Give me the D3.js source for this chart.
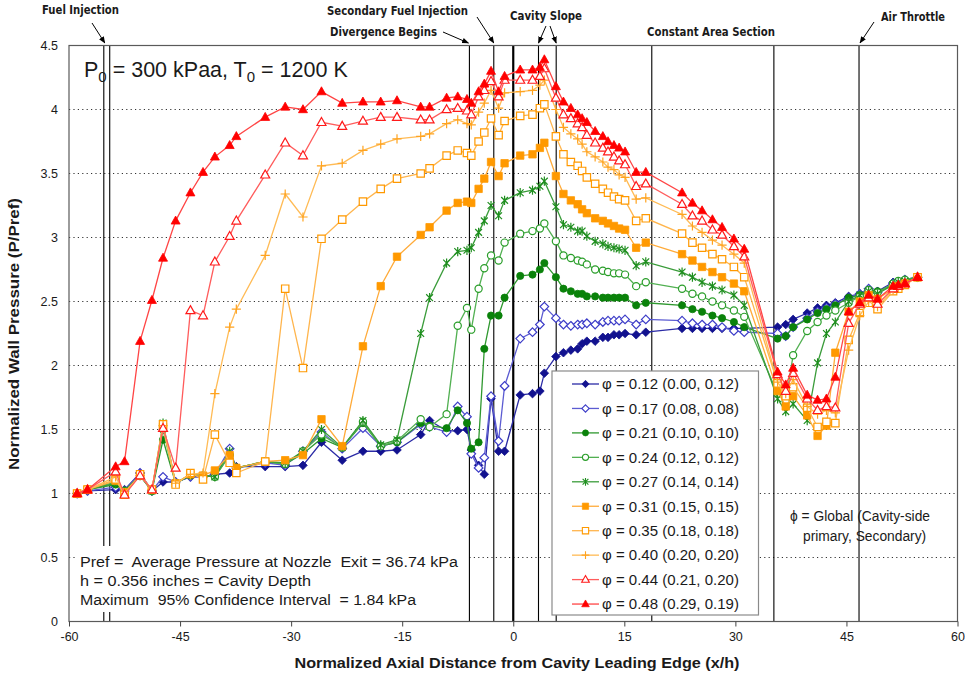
<!DOCTYPE html>
<html><head><meta charset="utf-8">
<script src="https://cdn.jsdelivr.net/npm/d3@7"></script>
<style>
body{margin:0;background:#fff}
svg{display:block}
text{font-family:"Liberation Sans",Arial,sans-serif;fill:#1a1a1a}
.pre{white-space:pre}
.ann{font-family:"Liberation Sans Narrow","Arial Narrow","DejaVu Sans Condensed",sans-serif;font-weight:bold;font-size:12.5px}
</style>
</head><body>
<svg id="c" width="965" height="678"></svg>
<script>
// ---------- DATA ----------
const xPos = [-58.9,-57.5,-53.7,-52.5,-50.4,-48.8,-47.3,-45.6,-43.6,-41.9,-40.3,-38.3,-37.4,-33.5,-30.8,-28.4,-25.9,-23.1,
  -20.3,-17.9,-15.7,-12.5,-11.3,-9.0,-7.5,-6.25,-5.67,-4.68,-3.91,-3.0,-1.98,-1.17,
  0.94,2.6,3.6,4.2,
  5.76,6.78,7.78,8.7,9.3,9.94,11.06,12.1,12.8,13.6,14.3,15.1,16.6,17.9,22.8,24.2,25.5,26.9,28.2,29.8,31.2,
  35.7,36.8,37.8,39.7,41.1,42.3,43.5,
  45.3,46.8,48.0,49.2,51.3,52.0,52.9,54.6];

const phi012 = [1.00,1.02,1.03,1.03,1.16,1.02,1.09,1.09,1.13,1.13,1.15,1.16,1.21,1.21,1.21,1.22,1.40,1.26,
  1.33,1.33,1.34,1.46,1.57,1.49,1.49,1.50,1.34,1.22,1.15,1.74,1.33,1.33,
  1.77,1.78,1.80,1.94,
  2.07,2.10,2.12,2.13,2.17,2.19,2.19,2.22,2.22,2.24,2.24,2.25,2.24,2.26,2.29,2.29,2.29,2.29,2.29,2.29,2.29,
  2.30,2.32,2.36,2.41,2.45,2.47,2.49,
  2.54,2.56,2.60,2.58,2.65,2.65,2.67,2.69];
const phi017 = [1.00,1.02,1.05,1.02,1.16,1.02,1.13,1.09,1.13,1.13,1.15,1.35,1.20,1.24,1.22,1.33,1.48,1.35,
  1.51,1.37,1.40,1.54,1.52,1.48,1.68,1.60,1.31,1.20,1.28,1.76,1.41,1.84,
  2.21,2.26,2.32,2.46,
  2.37,2.32,2.31,2.32,2.32,2.33,2.32,2.34,2.35,2.35,2.35,2.36,2.32,2.36,2.35,2.33,2.32,2.32,2.30,2.27,2.26,
  2.25,2.23,2.30,2.37,2.42,2.45,2.48,
  2.53,2.56,2.60,2.57,2.64,2.65,2.67,2.69];
const phi021 = [1.00,1.03,1.07,1.02,1.14,1.02,1.42,1.08,1.14,1.14,1.13,1.30,1.20,1.25,1.23,1.31,1.43,1.36,
  1.55,1.37,1.40,1.55,1.53,1.51,1.65,1.55,1.35,1.40,2.13,2.39,2.39,2.53,
  2.70,2.71,2.75,2.80,
  2.69,2.60,2.58,2.56,2.56,2.54,2.54,2.53,2.53,2.53,2.53,2.53,2.47,2.49,2.47,2.44,2.42,2.39,2.37,2.34,2.30,
  2.21,2.23,2.30,2.36,2.41,2.44,2.47,
  2.53,2.55,2.59,2.58,2.63,2.65,2.66,2.69];
const phi024 = [1.00,1.03,1.09,1.02,1.14,1.02,1.50,1.08,1.15,1.14,1.13,1.30,1.20,1.25,1.23,1.33,1.46,1.36,
  1.56,1.37,1.41,1.58,1.52,1.62,2.31,2.45,2.28,2.60,2.76,2.86,2.82,2.96,
  3.03,3.05,3.07,3.11,
  2.97,2.86,2.84,2.82,2.81,2.79,2.75,2.74,2.73,2.72,2.72,2.71,2.62,2.65,2.60,2.56,2.54,2.50,2.47,2.43,2.38,
  1.78,1.72,2.08,2.27,2.34,2.39,2.43,
  2.49,2.54,2.59,2.57,2.64,2.66,2.67,2.69];
const phi027 = [1.00,1.03,1.08,1.02,1.14,1.02,1.55,1.08,1.15,1.14,1.13,1.33,1.20,1.25,1.24,1.33,1.50,1.36,
  1.57,1.38,1.42,2.25,2.53,2.80,2.89,2.90,2.92,3.04,3.13,3.25,3.17,3.29,
  3.35,3.37,3.40,3.44,
  3.24,3.10,3.08,3.05,3.05,3.01,2.97,2.95,2.93,2.92,2.91,2.90,2.78,2.81,2.73,2.69,2.65,2.62,2.59,2.55,2.47,
  1.74,1.64,1.70,1.57,2.02,2.25,2.34,
  2.50,2.55,2.58,2.56,2.63,2.65,2.66,2.69];
const phi031 = [1.00,1.03,1.10,1.01,1.14,1.03,1.52,1.08,1.15,1.14,1.18,1.30,1.20,1.25,1.26,1.30,1.58,1.37,
  2.15,2.62,2.85,3.02,3.08,3.21,3.27,3.28,3.27,3.38,3.46,3.59,3.48,3.58,
  3.64,3.65,3.70,3.74,
  3.48,3.34,3.29,3.26,3.22,3.19,3.15,3.13,3.11,3.09,3.07,3.06,2.92,2.96,2.87,2.82,2.77,2.73,2.69,2.64,2.58,
  1.80,1.68,1.76,1.61,1.45,1.53,2.10,
  2.42,2.50,2.55,2.52,2.60,2.62,2.64,2.69];
const phi035 = [1.00,1.03,1.11,0.99,1.15,1.03,1.54,1.07,1.16,1.11,1.46,1.24,1.16,1.25,2.60,1.98,2.99,3.14,
  3.28,3.38,3.46,3.50,3.54,3.64,3.68,3.66,3.64,3.75,3.82,3.93,3.80,3.91,
  3.95,3.96,4.01,4.04,
  3.79,3.65,3.59,3.56,3.52,3.47,3.42,3.38,3.35,3.32,3.30,3.29,3.13,3.15,3.03,2.96,2.92,2.87,2.83,2.77,2.69,
  1.86,1.76,1.83,1.67,1.52,1.56,1.55,
  2.20,2.41,2.49,2.44,2.58,2.60,2.63,2.69];
const phi040 = [1.00,1.03,1.13,1.00,1.14,1.03,1.53,1.08,1.15,1.16,1.78,2.30,2.44,2.86,3.34,3.16,3.56,3.58,
  3.68,3.73,3.77,3.79,3.81,3.89,3.92,3.89,3.88,3.98,4.05,4.15,4.01,4.13,
  4.14,4.15,4.19,4.23,
  4.00,3.86,3.81,3.77,3.73,3.67,3.63,3.59,3.55,3.53,3.49,3.47,3.30,3.31,3.18,3.09,3.04,2.98,2.94,2.87,2.80,
  1.87,1.78,1.89,1.68,1.62,1.65,1.63,
  2.12,2.39,2.50,2.46,2.59,2.61,2.64,2.69];
const phi044 = [1.00,1.03,1.17,0.99,1.14,1.03,1.51,1.20,2.43,2.39,2.81,3.01,3.13,3.49,3.74,3.64,3.90,3.87,
  3.91,3.94,3.94,3.92,3.92,4.00,4.01,3.99,3.96,4.10,4.15,4.22,4.10,4.23,
  4.23,4.23,4.26,4.32,
  4.09,3.96,3.93,3.89,3.86,3.80,3.74,3.70,3.67,3.63,3.60,3.57,3.40,3.42,3.26,3.17,3.13,3.06,3.02,2.93,2.85,
  1.93,1.80,1.94,1.74,1.65,1.68,1.67,
  2.33,2.48,2.53,2.48,2.60,2.62,2.64,2.69];
const phi048 = [1.00,1.03,1.21,1.25,2.19,2.51,2.84,3.13,3.35,3.51,3.63,3.72,3.79,3.94,4.02,4.00,4.14,4.05,
  4.06,4.06,4.07,4.02,4.02,4.09,4.10,4.08,4.05,4.14,4.20,4.30,4.14,4.26,
  4.31,4.31,4.33,4.39,
  4.18,4.06,4.01,3.96,3.93,3.90,3.83,3.79,3.75,3.72,3.70,3.67,3.51,3.51,3.35,3.27,3.21,3.14,3.08,2.99,2.91,
  1.95,1.85,1.98,1.77,1.73,1.74,1.91,
  2.42,2.49,2.55,2.52,2.62,2.63,2.64,2.69];

const seriesValues = [phi012, phi017, phi021, phi024, phi027, phi031, phi035, phi040, phi044, phi048];
const seriesLabels = ["φ = 0.12 (0.00, 0.12)","φ = 0.17 (0.08, 0.08)","φ = 0.21 (0.10, 0.10)","φ = 0.24 (0.12, 0.12)",
  "φ = 0.27 (0.14, 0.14)","φ = 0.31 (0.15, 0.15)","φ = 0.35 (0.18, 0.18)","φ = 0.40 (0.20, 0.20)",
  "φ = 0.44 (0.21, 0.20)","φ = 0.48 (0.29, 0.19)"];
const xTicks = [-60,-45,-30,-15,0,15,30,45,60];
const yTicks = [0,0.5,1,1.5,2,2.5,3,3.5,4,4.5];
const yGrid = [0.5,1,1.5,2,2.5,3,3.5,4];
const fuelLines = [-55.3,-54.5];
const refLines = [-5.92,-2.63,3.41,5.8,18.71,35.2,46.7];
const zeroLine = [0];

// ---------- STYLES ----------
const styles = [
  {c:"#12128f", lc:"#2b2ba6", m:"diamond", fill:true},
  {c:"#3c3cc8", lc:"#5c5cd2", m:"diamond", fill:false},
  {c:"#0a820a", lc:"#2f982f", m:"circle", fill:true},
  {c:"#2a9e2a", lc:"#52b052", m:"circle", fill:false},
  {c:"#1e8e1e", lc:"#3a9c3a", m:"star", fill:false},
  {c:"#ff9900", lc:"#ffab3a", m:"square", fill:true},
  {c:"#ff9900", lc:"#ffb54d", m:"square", fill:false},
  {c:"#ffa31f", lc:"#ffbb55", m:"plus", fill:false},
  {c:"#ff1a1a", lc:"#ff5c5c", m:"triangle", fill:false},
  {c:"#ff0000", lc:"#ff4545", m:"triangle", fill:true}
];
function markerPath(m){
  switch(m){
    case "diamond": return "M0,-4.3L4.3,0L0,4.3L-4.3,0Z";
    case "circle": return "M3.6,0A3.6,3.6 0 1,1 -3.6,0A3.6,3.6 0 1,1 3.6,0Z";
    case "square": return "M-3.7,-3.7H3.7V3.7H-3.7Z";
    case "triangle": return "M0,-4.8L4.5,3.2L-4.5,3.2Z";
    case "plus": return "M-4.6,0H4.6M0,-4.6V4.6";
    case "star": return "M0,-4.6V4.6M-3.4,-3.4L3.4,3.4M-3.4,3.4L3.4,-3.4";
  }
}

// ---------- CHART ----------
const svg = d3.select("#c");
const L=69, R=957.5, T=45.5, B=621.5;
const x = d3.scaleLinear().domain([-60,60]).range([L,R]);
const y = d3.scaleLinear().domain([0,4.5]).range([B,T]);

// gridlines
svg.append("g").selectAll("line").data(yGrid).join("line")
  .attr("x1",L).attr("x2",R).attr("y1",d=>y(d)).attr("y2",d=>y(d))
  .attr("stroke","#333").attr("stroke-width",1).attr("stroke-dasharray","1.2,3.2");

// reference vertical lines
svg.append("g").selectAll("line").data(fuelLines.concat(refLines)).join("line")
  .attr("x1",d=>x(d)).attr("x2",d=>x(d)).attr("y1",T).attr("y2",B)
  .attr("stroke","#000").attr("stroke-width",1.1);
svg.append("g").selectAll("line").data(zeroLine).join("line")
  .attr("x1",d=>x(d)).attr("x2",d=>x(d)).attr("y1",T).attr("y2",B)
  .attr("stroke","#000").attr("stroke-width",2.2);

// frame
svg.append("rect").attr("x",L).attr("y",T).attr("width",R-L).attr("height",B-T)
  .attr("fill","none").attr("stroke","#5a5a5a").attr("stroke-width",1.2);

// axes
const xAxis = svg.append("g").attr("transform",`translate(0,${B})`)
  .call(d3.axisBottom(x).tickValues(xTicks).tickSize(5).tickPadding(6).tickFormat(d=>String(d)));
xAxis.select(".domain").remove();
xAxis.selectAll("line").attr("stroke","#444");
xAxis.selectAll("text").attr("font-size","12.5px").attr("fill","#1a1a1a").style("font-family","'Liberation Sans',Arial,sans-serif");

const yAxis = svg.append("g").attr("transform",`translate(${L},0)`)
  .call(d3.axisLeft(y).tickValues(yTicks).tickSize(0).tickPadding(11).tickFormat(d=>String(d)));
yAxis.select(".domain").remove();
yAxis.selectAll("text").attr("font-size","12.5px").attr("fill","#1a1a1a").style("font-family","'Liberation Sans',Arial,sans-serif");

// series
const line = d3.line().defined(d=>d!=null).x((d,i)=>x(xPos[i])).y(d=>y(d));
seriesValues.forEach((vals,si)=>{
  const st = styles[si];
  const g = svg.append("g");
  g.append("path").attr("d",line(vals)).attr("fill","none").attr("stroke",st.lc).attr("stroke-width",1.3);
  g.selectAll("path.m").data(vals).join("path").attr("class","m")
    .attr("transform",(d,i)=>`translate(${x(xPos[i])},${y(d)})`)
    .attr("d",markerPath(st.m))
    .attr("fill",(st.m==="plus"||st.m==="star")?"none":(st.fill?st.c:"#fff"))
    .attr("stroke",st.c).attr("stroke-width",st.fill?0.8:1.2);
});

// legend
const lg = svg.append("g");
lg.append("rect").attr("x",552).attr("y",371).attr("width",206.5).attr("height",244)
  .attr("fill","#fff").attr("stroke","#8a8a8a").attr("stroke-width",1.2);
seriesLabels.forEach((lab,i)=>{
  const st = styles[i];
  const yy = 384 + i*24.45;
  lg.append("line").attr("x1",572).attr("x2",599).attr("y1",yy).attr("y2",yy).attr("stroke",st.lc).attr("stroke-width",1.3);
  lg.append("path").attr("transform",`translate(585.5,${yy}) scale(0.85)`).attr("d",markerPath(st.m))
    .attr("fill",(st.m==="plus"||st.m==="star")?"none":(st.fill?st.c:"#fff"))
    .attr("stroke",st.c).attr("stroke-width",st.fill?0.8:1.3);
  lg.append("text").attr("x",602).attr("y",yy+5.3).attr("font-size","15px").text(lab);
});

// P0 / T0 label
const pt = svg.append("text").attr("x",84).attr("y",77).attr("font-size","21.5px");
pt.append("tspan").text("P");
pt.append("tspan").attr("font-size","15px").attr("dy",5).text("0");
pt.append("tspan").attr("dy",-5).text(" = 300 kPaa, T");
pt.append("tspan").attr("font-size","15px").attr("dy",5).text("0");
pt.append("tspan").attr("dy",-5).text(" = 1200 K");

// bottom-left info box
svg.append("rect").attr("x",75).attr("y",546).attr("width",392).attr("height",66).attr("fill","#fff");
const info = ["Pref =  Average Pressure at Nozzle  Exit = 36.74 kPa","h = 0.356 inches = Cavity Depth","Maximum  95% Confidence Interval  = 1.84 kPa"];
const infoW = [378, 231, 336];
info.forEach((t,i)=>{
  svg.append("text").attr("class","pre").attr("x",80).attr("y",566.5+i*19)
    .attr("font-size","14px").attr("textLength",infoW[i]).attr("lengthAdjust","spacingAndGlyphs").text(t);
});

// global phi note
svg.append("text").attr("x",790).attr("y",521).attr("font-size","13.8px").text("ϕ = Global (Cavity-side");
svg.append("text").attr("x",803).attr("y",541).attr("font-size","13.8px").text("primary, Secondary)");

// axis titles
svg.append("text").attr("transform","translate(19,334) rotate(-90)").attr("text-anchor","middle")
  .attr("font-size","15.5px").attr("font-weight","bold")
  .attr("textLength",272).attr("lengthAdjust","spacingAndGlyphs").text("Normalized Wall Pressure (P/Pref)");
svg.append("text").attr("x",517).attr("y",668).attr("text-anchor","middle")
  .attr("font-size","15.5px").attr("font-weight","bold")
  .attr("textLength",445).attr("lengthAdjust","spacingAndGlyphs").text("Normalized Axial Distance from Cavity Leading Edge (x/h)");

// annotations
const defs = svg.append("defs");
defs.append("marker").attr("id","ah").attr("viewBox","0 0 10 10").attr("refX",9).attr("refY",5)
  .attr("markerWidth",7).attr("markerHeight",7).attr("orient","auto")
  .append("path").attr("d","M0,1L10,5L0,9Z").attr("fill","#000");
const anns = [
  {t:"Fuel Injection", x:42, y:14, w:77},
  {t:"Secondary Fuel Injection", x:327, y:15, w:141},
  {t:"Divergence Begins", x:330, y:36, w:107},
  {t:"Cavity Slope", x:510, y:20, w:72},
  {t:"Constant Area Section", x:647, y:36, w:128},
  {t:"Air Throttle", x:881, y:21, w:64}
];
anns.forEach(a=>{
  svg.append("text").attr("class","ann").attr("x",a.x).attr("y",a.y)
    .attr("textLength",a.w).attr("lengthAdjust","spacingAndGlyphs").text(a.t);
});
const arrows = [
  {x1:92, y1:23, v:-55.3, dx:1},
  {x1:477, y1:17, v:-2.63, dx:0},
  {x1:443, y1:32, v:-5.92, dx:-1},
  {x1:546, y1:26, v:3.41, dx:0},
  {x1:550, y1:26, v:5.8, dx:0},
  {x1:874, y1:22, v:46.7, dx:1}
];
arrows.forEach(a=>{
  svg.append("line").attr("x1",a.x1).attr("y1",a.y1).attr("x2",x(a.v)+a.dx).attr("y2",43)
    .attr("stroke","#000").attr("stroke-width",1).attr("marker-end","url(#ah)");
});
</script>
</body></html>
